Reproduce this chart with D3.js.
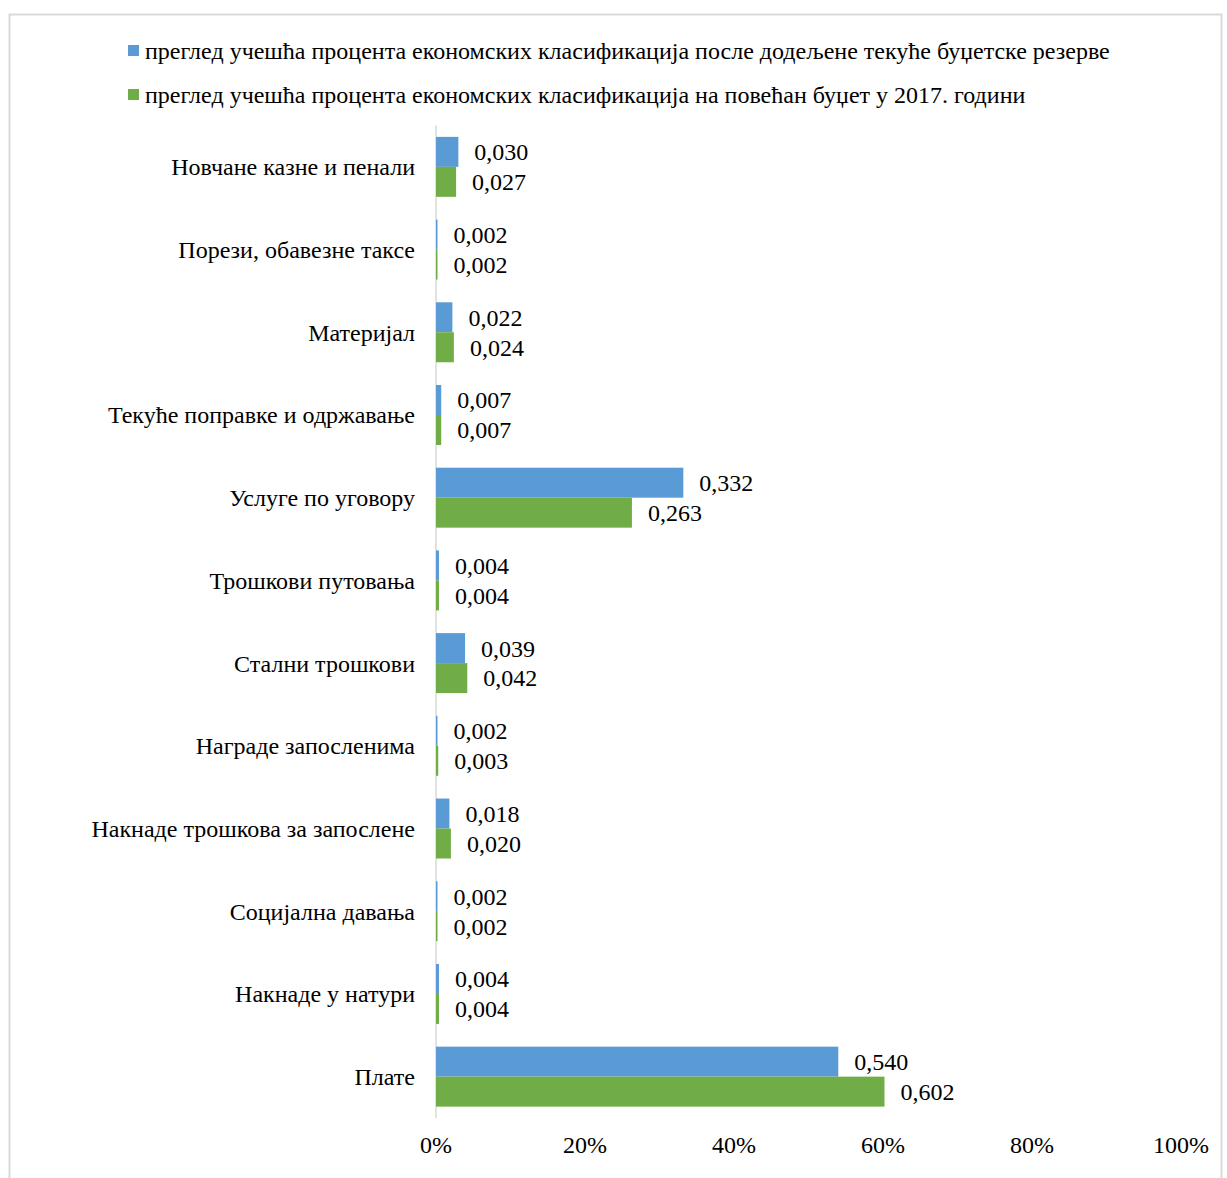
<!DOCTYPE html>
<html>
<head>
<meta charset="utf-8">
<script src="https://cdn.jsdelivr.net/npm/d3@7/dist/d3.min.js"></script>
<style>
html,body{margin:0;padding:0;background:#fff;}
svg{display:block;font-family:"Liberation Serif","Times New Roman",serif;}
</style>
</head>
<body>
<svg id="chart" width="1227" height="1178"></svg>
<script>
const categories = [
  "Новчане казне и пенали",
  "Порези, обавезне таксе",
  "Материјал",
  "Текуће поправке и одржавање",
  "Услуге по уговору",
  "Трошкови путовања",
  "Стални трошкови",
  "Награде запосленима",
  "Накнаде трошкова за запослене",
  "Социјална давања",
  "Накнаде у натури",
  "Плате"
];
const seriesNames = [
  "преглед учешћа процента економских класификација после додељене текуће буџетске резерве",
  "преглед учешћа процента економских класификација на повећан буџет у 2017. години"
];
const seriesA = [0.030, 0.002, 0.022, 0.007, 0.332, 0.004, 0.039, 0.002, 0.018, 0.002, 0.004, 0.540];
const seriesB = [0.027, 0.002, 0.024, 0.007, 0.263, 0.004, 0.042, 0.003, 0.020, 0.002, 0.004, 0.602];
const xTicks = [0, 0.2, 0.4, 0.6, 0.8, 1.0];
const colors = ["#5b9bd5", "#70ad47"];

const svg = d3.select("#chart");

// frame
svg.append("rect").attr("x", 9.5).attr("y", 14.5).attr("width", 1212).attr("height", 1200)
  .attr("fill", "#fff").attr("stroke", "#d9d9d9").attr("stroke-width", 2);

const plot = {left: 436, right: 1181, top: 125.5, bottom: 1118};
const x = d3.scaleLinear().domain([0, 1]).range([plot.left, plot.right]);
const gap = 0.275;
const y = d3.scaleBand().domain(categories).range([plot.top, plot.bottom]).paddingInner(gap).paddingOuter(gap / 2);
const ySub = d3.scaleBand().domain([0, 1]).range([0, y.bandwidth()]);

const data = categories.map((c, i) => ({c, vals: [seriesA[i], seriesB[i]]}));

// axis line (category axis)
svg.append("line").attr("x1", x(0)).attr("x2", x(0)).attr("y1", plot.top).attr("y2", plot.bottom)
  .attr("stroke", "#d9d9d9").attr("stroke-width", 1.5);

const g = svg.selectAll("g.cat").data(data).enter().append("g").attr("class", "cat")
  .attr("transform", d => `translate(0,${y(d.c)})`);

g.selectAll("rect").data(d => d.vals.map((v, k) => ({v, k}))).enter().append("rect")
  .attr("x", x(0))
  .attr("y", d => ySub(d.k))
  .attr("width", d => x(d.v) - x(0))
  .attr("height", ySub.bandwidth())
  .attr("fill", d => colors[d.k]);

const fmt = v => d3.format(".3f")(v).replace(".", ",");
g.selectAll("text.val").data(d => d.vals.map((v, k) => ({v, k}))).enter().append("text")
  .attr("class", "val")
  .attr("x", d => x(d.v) + 16)
  .attr("y", d => ySub(d.k) + ySub.bandwidth() / 2)
  .attr("dy", "0.35em")
  .attr("font-size", 24)
  .attr("fill", "#000")
  .text(d => fmt(d.v));

// category labels
svg.selectAll("text.cat").data(categories).enter().append("text")
  .attr("class", "cat")
  .attr("x", 415)
  .attr("y", d => y(d) + y.bandwidth() / 2)
  .attr("dy", "0.35em")
  .attr("text-anchor", "end")
  .attr("font-size", 24)
  .attr("fill", "#000")
  .text(d => d);

// x tick labels
svg.selectAll("text.tick").data(xTicks).enter().append("text")
  .attr("class", "tick")
  .attr("x", d => x(d))
  .attr("y", 1145)
  .attr("dy", "0.35em")
  .attr("text-anchor", "middle")
  .attr("font-size", 24)
  .attr("fill", "#000")
  .text(d => d3.format(".0%")(d));

// legend
const leg = svg.selectAll("g.leg").data(seriesNames).enter().append("g").attr("class", "leg")
  .attr("transform", (d, i) => `translate(128,${51 + i * 44})`);
leg.append("rect").attr("x", 0).attr("y", -6).attr("width", 11).attr("height", 11)
  .attr("fill", (d, i) => colors[i]);
leg.append("text").attr("x", 17).attr("y", 0).attr("dy", "0.35em")
  .attr("font-size", 24).attr("fill", "#000").text(d => d);
</script>
</body>
</html>
